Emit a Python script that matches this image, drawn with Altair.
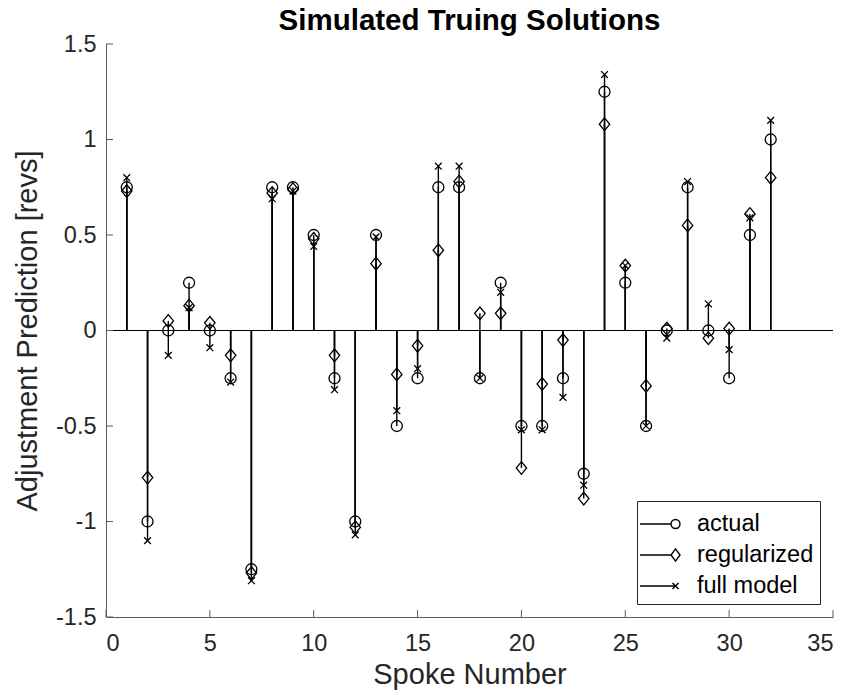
import altair as alt
import pandas as pd

# Spoke index and the three predicted truing adjustments per spoke [revs]
spokes = list(range(1, 33))
actual = [0.75, -1.0, 0.0, 0.25, 0.0, -0.25, -1.25, 0.75, 0.75, 0.5, -0.25, -1.0,
          0.5, -0.5, -0.25, 0.75, 0.75, -0.25, 0.25, -0.5, -0.5, -0.25, -0.75, 1.25,
          0.25, -0.5, 0.0, 0.75, 0.0, -0.25, 0.5, 1.0]
regularized = [0.73, -0.77, 0.05, 0.13, 0.04, -0.13, -1.27, 0.72, 0.74, 0.48, -0.13, -1.03,
               0.35, -0.23, -0.08, 0.42, 0.78, 0.09, 0.09, -0.72, -0.28, -0.05, -0.88, 1.08,
               0.34, -0.29, 0.01, 0.55, -0.04, 0.01, 0.61, 0.80]
full_model = [0.80, -1.10, -0.13, 0.12, -0.09, -0.27, -1.31, 0.69, 0.73, 0.44, -0.31, -1.07,
              0.49, -0.42, -0.20, 0.86, 0.86, -0.25, 0.20, -0.52, -0.52, -0.35, -0.81, 1.34,
              0.34, -0.50, -0.04, 0.78, 0.14, -0.10, 0.59, 1.10]
series_names = ["actual", "regularized", "full model"]
x_tick_values = [0, 5, 10, 15, 20, 25, 30, 35]
y_tick_values = [-1.5, -1.0, -0.5, 0.0, 0.5, 1.0, 1.5]

rows = []
for name, vals in zip(series_names, [actual, regularized, full_model]):
    for s, v in zip(spokes, vals):
        rows.append({"spoke": s, "series": name, "value": v})
df = pd.DataFrame(rows)

FONT = "Liberation Sans"
AXIS_GREY = "#5a5a5a"
TEXT = "#262626"

x_scale = alt.Scale(domain=[0, 35], nice=False, zero=False)
y_scale = alt.Scale(domain=[-1.5, 1.5], nice=False, zero=False)

# Marker shapes for the data points (unit paths scaled by the symbol size)
marker_shapes = [
    "circle",
    "M0,-1.15L0.95,0L0,1.15L-0.95,0Z",
    "M-0.62,-0.62L0.62,0.62M-0.62,0.62L0.62,-0.62",
]
# Legend glyphs: a short stem line ending in the series marker
legend_shapes = [
    "M-1.25,0L0.69,0M1.25,0A0.28,0.28 0 1,1 0.69,0A0.28,0.28 0 1,1 1.25,0",
    "M-1.25,0L0.69,0M0.69,0L0.97,-0.38L1.25,0L0.97,0.38Z",
    "M-1.25,0L0.97,0M0.78,-0.19L1.16,0.19M0.78,0.19L1.16,-0.19",
]

x_enc = alt.X("spoke:Q", scale=x_scale,
              axis=alt.Axis(title="Spoke Number", values=x_tick_values, ticks=False,
                            grid=False, labelPadding=14, titlePadding=6))
y_enc = alt.Y("value:Q", scale=y_scale,
              axis=alt.Axis(title="Adjustment Prediction [revs]", values=y_tick_values,
                            ticks=False, grid=False, labelPadding=10, titlePadding=13,
                            labelExpr="replace(format(datum.value, '.2~f'), '\u2212', '-')"))

base = alt.Chart(df)

stems = base.mark_rule(color="black", strokeWidth=1.4).encode(
    x=x_enc, y=y_enc, y2=alt.datum(0)
)

points = base.mark_point(filled=False, size=121, strokeWidth=1.3, color="black", opacity=1).encode(
    x=alt.X("spoke:Q", scale=x_scale),
    y=alt.Y("value:Q", scale=y_scale),
    shape=alt.Shape("series:N", scale=alt.Scale(domain=series_names, range=marker_shapes),
                    legend=None),
)

legend_layer = base.mark_point(filled=False, color="black", opacity=0).encode(
    x=alt.X("spoke:Q", scale=x_scale),
    y=alt.Y("value:Q", scale=y_scale),
    shape=alt.Shape("series:N",
                    scale=alt.Scale(domain=series_names, range=legend_shapes),
                    legend=alt.Legend(title=None, orient="bottom-right", offset=13,
                                      symbolSize=1024, symbolStrokeWidth=1.4,
                                      symbolStrokeColor="black", symbolOpacity=1,
                                      symbolFillColor="transparent",
                                      labelFont=FONT, labelFontSize=23.5, labelColor="black",
                                      labelOffset=20, rowPadding=2, padding=6,
                                      strokeColor=TEXT, fillColor="white")),
)

baseline = alt.Chart(pd.DataFrame({"level": [0.0]})).mark_rule(
    color="black", strokeWidth=1
).encode(y=alt.Y("level:Q", scale=y_scale))

# Inward-pointing tick marks on the bottom and left axes
x_ticks = alt.Chart(pd.DataFrame({"t": x_tick_values})).mark_rule(
    color=AXIS_GREY, strokeWidth=1, y2Offset=-7
).encode(x=alt.X("t:Q", scale=x_scale), y=alt.datum(-1.5), y2=alt.datum(-1.5))

y_ticks = alt.Chart(pd.DataFrame({"t": y_tick_values})).mark_rule(
    color=AXIS_GREY, strokeWidth=1, x2Offset=7
).encode(y=alt.Y("t:Q", scale=y_scale), x=alt.datum(0), x2=alt.datum(0))

chart = alt.layer(
    baseline, stems, points, legend_layer, x_ticks, y_ticks
).resolve_scale(
    shape="independent"
).properties(
    width=727, height=573,
    padding={"left": 106, "top": 44, "right": 17, "bottom": 79},
    autosize=alt.AutoSizeParams(type="none"),
    title=alt.Title("Simulated Truing Solutions", font=FONT, fontSize=29.5, fontWeight="bold",
                    color="black", anchor="middle", frame="group", offset=-4),
).configure(
    font=FONT, background="white"
).configure_view(
    stroke=None
).configure_axis(
    domainColor=AXIS_GREY, domainWidth=1,
    labelFont=FONT, labelFontSize=23.5, labelColor=TEXT,
    titleFont=FONT, titleFontSize=29, titleFontWeight="normal", titleColor=TEXT,
)

chart.save("out.html", embed_options={"renderer": "svg", "actions": False})
